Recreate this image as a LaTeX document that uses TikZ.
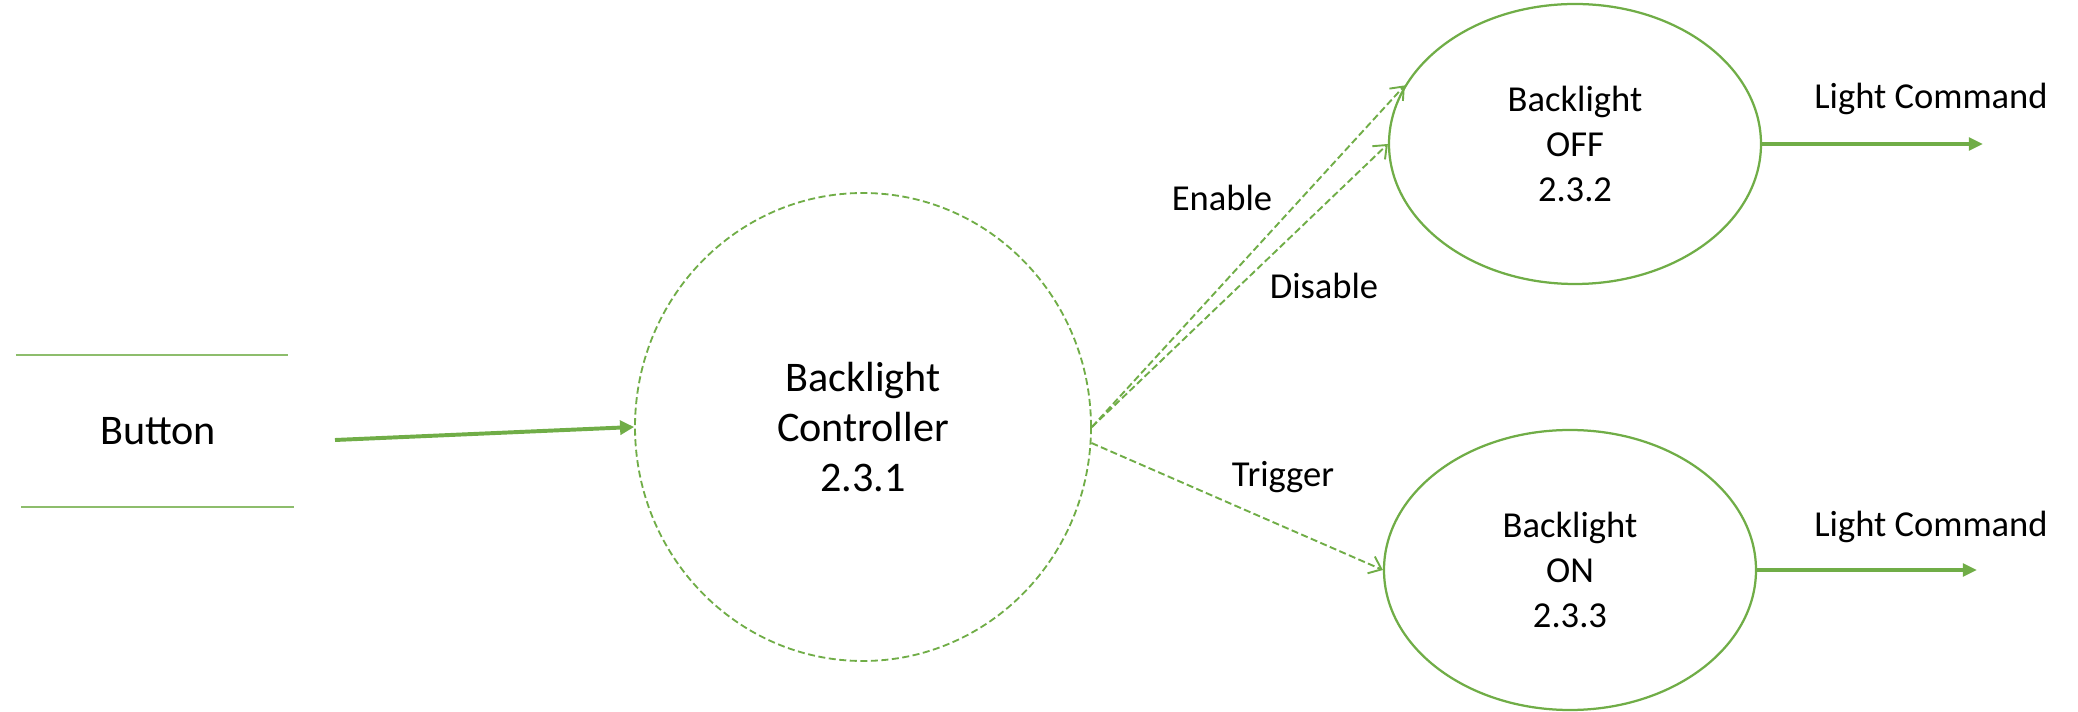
\documentclass[tikz,border=0pt]{standalone}
\usepackage{fontspec}
\setmainfont{Carlito}
\usepackage{tikz}
\usetikzlibrary{shapes.geometric,arrows.meta}
\definecolor{flow}{HTML}{70AD47}
\definecolor{ink}{HTML}{000000}
\tikzset{
  bubble/.style={ellipse, draw=flow, line width=1.6pt, inner sep=0pt, minimum width=9.3cm, minimum height=7.0cm, align=center, text=ink, font=\fontsize{26}{32}\selectfont},
  ctrlbubble/.style={ellipse, draw=flow, line width=1.3pt, dash pattern=on 5pt off 2.5pt, inner sep=0pt, minimum width=11.4cm, minimum height=11.7cm, align=center, text=ink, font=\fontsize{30}{35.5}\selectfont},
  storeline/.style={draw=flow!80, line width=1.3pt},
  dataflow/.style={draw=flow, line width=2.8pt, -{Triangle[length=10pt,width=10pt]}},
  outflow/.style={draw=flow, line width=2.4pt, -{Triangle[length=10pt,width=9pt]}},
  ctrlflow/.style={draw=flow, line width=1.35pt, dash pattern=on 5pt off 2.4pt, -{Straight Barb[length=8pt,width=13pt]}},
  lab/.style={text=ink, font=\fontsize{26}{32}\selectfont},
}
\begin{document}
\begin{tikzpicture}
  \useasboundingbox (0,0) rectangle (51.95,17.775);
  \node[ctrlbubble] (ctrl) at (21.575,7.1) {Backlight\\Controller\\2.3.1};
  \node[bubble] (off) at (39.375,14.175) {Backlight\\OFF\\2.3.2};
  \node[bubble] (on) at (39.25,3.525) {Backlight\\ON\\2.3.3};
  \node[lab, font=\fontsize{30}{36}\selectfont] (btn) at (3.95,7.0) {Button};
  \draw[storeline] (0.4,8.9) -- (7.2,8.9);
  \draw[storeline] (0.53,5.1) -- (7.35,5.1);
  \coordinate (btnout) at (8.375,6.775);
  \coordinate (offout) at (49.575,14.175);
  \coordinate (onout) at (49.425,3.525);
  \draw[dataflow] (btnout) -- (ctrl.west);
  \draw[ctrlflow] (ctrl.east) -- (off.161);
  \draw[ctrlflow] (ctrl.east) -- (off.west);
  \draw[ctrlflow] (ctrl.-4) -- (on.west);
  \draw[outflow] (off.east) -- (offout);
  \draw[outflow] (on.east) -- (onout);
  \node[lab] (enable) at (30.55,12.825) {Enable};
  \node[lab] (disable) at (33.1,10.625) {Disable};
  \node[lab] (trigger) at (32.075,5.85) {Trigger};
  \node[lab] (offcmd) at (48.275,15.3) {Light Command};
  \node[lab] (oncmd) at (48.275,4.6) {Light Command};
\end{tikzpicture}
\end{document}
